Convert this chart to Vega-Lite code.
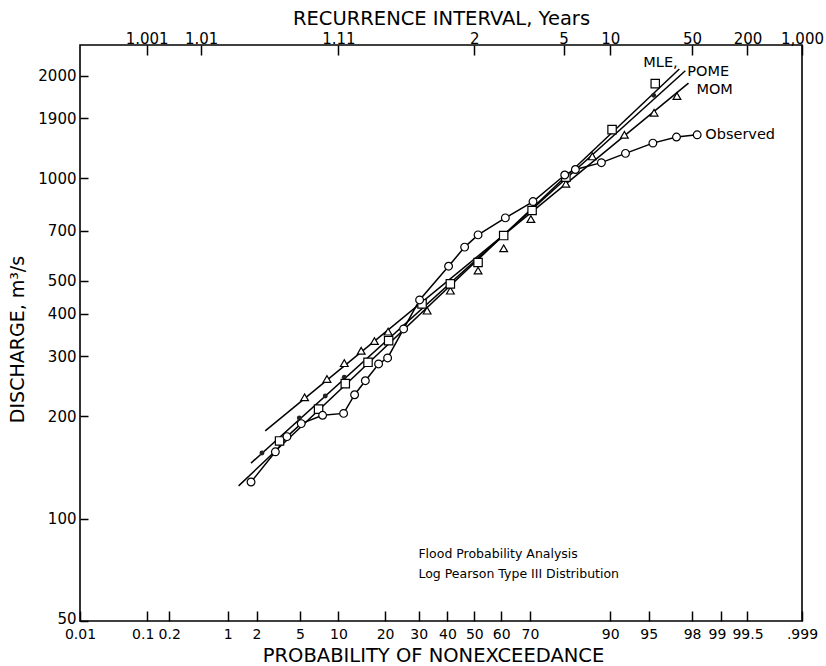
{
  "$schema": "https://vega.github.io/schema/vega-lite/v6.json",
  "width": 722,
  "height": 576,
  "autosize": {"type": "none"},
  "padding": {"left": 80, "top": 45, "right": 24, "bottom": 45},
  "background": "white",
  "config": {
    "view": {"stroke": "black", "strokeWidth": 1.6},
    "font": "DejaVu Sans",
    "axis": {
      "domain": false, "grid": false, "tickColor": "black", "tickWidth": 1.5,
      "labelColor": "black", "titleColor": "black", "labelFont": "DejaVu Sans", "titleFont": "DejaVu Sans",
      "labelFontSize": 15, "titleFontSize": 19.5, "titleFontWeight": "normal",
      "labelOverlap": false, "labelBound": false, "labelFlush": false
    }
  },
  "datasets": {
    "fits": [
      {"method": "MLE", "p": 1.31, "Q": 124.7}, {"method": "MLE", "p": 97.34, "Q": 2091},
      {"method": "POME", "p": 1.76, "Q": 145.5}, {"method": "POME", "p": 97.67, "Q": 2066},
      {"method": "MOM", "p": 2.43, "Q": 181}, {"method": "MOM", "p": 97.83, "Q": 1900}
    ],
    "pts": [
      {"method": "MOM", "p": 5.47, "Q": 227}, {"method": "MOM", "p": 8.23, "Q": 257}, {"method": "MOM", "p": 11.0, "Q": 286},
      {"method": "MOM", "p": 14.3, "Q": 311}, {"method": "MOM", "p": 17.3, "Q": 332}, {"method": "MOM", "p": 20.8, "Q": 354},
      {"method": "MOM", "p": 32.8, "Q": 408}, {"method": "MOM", "p": 41.05, "Q": 467}, {"method": "MOM", "p": 51.4, "Q": 535},
      {"method": "MOM", "p": 60.9, "Q": 622}, {"method": "MOM", "p": 70.3, "Q": 758}, {"method": "MOM", "p": 80.6, "Q": 962},
      {"method": "MOM", "p": 86.7, "Q": 1158}, {"method": "MOM", "p": 92.15, "Q": 1340}, {"method": "MOM", "p": 95.5, "Q": 1556},
      {"method": "MOM", "p": 97.2, "Q": 1742},
      {"method": "MLE", "p": 3.31, "Q": 169}, {"method": "MLE", "p": 7.09, "Q": 209.6}, {"method": "MLE", "p": 11.18, "Q": 249},
      {"method": "MLE", "p": 15.8, "Q": 287.6}, {"method": "MLE", "p": 20.95, "Q": 333}, {"method": "MLE", "p": 31.1, "Q": 427},
      {"method": "MLE", "p": 41.05, "Q": 489}, {"method": "MLE", "p": 51.4, "Q": 565}, {"method": "MLE", "p": 60.9, "Q": 678},
      {"method": "MLE", "p": 70.7, "Q": 803}, {"method": "MLE", "p": 80.6, "Q": 1006}, {"method": "MLE", "p": 90.3, "Q": 1388},
      {"method": "MLE", "p": 95.6, "Q": 1894},
      {"method": "POME", "p": 2.26, "Q": 155.7}, {"method": "POME", "p": 4.94, "Q": 197.4}, {"method": "POME", "p": 7.99, "Q": 229},
      {"method": "POME", "p": 11.0, "Q": 260}, {"method": "POME", "p": 95.46, "Q": 1750},
      {"method": "Observed", "p": 1.76, "Q": 128}, {"method": "Observed", "p": 3.03, "Q": 157}, {"method": "Observed", "p": 3.86, "Q": 174},
      {"method": "Observed", "p": 5.13, "Q": 190}, {"method": "Observed", "p": 7.62, "Q": 201}, {"method": "Observed", "p": 10.88, "Q": 203.6},
      {"method": "Observed", "p": 12.94, "Q": 231}, {"method": "Observed", "p": 15.2, "Q": 254}, {"method": "Observed", "p": 18.33, "Q": 284.5},
      {"method": "Observed", "p": 20.67, "Q": 296.3}, {"method": "Observed", "p": 25.24, "Q": 360.5}, {"method": "Observed", "p": 30.29, "Q": 438.7},
      {"method": "Observed", "p": 40.4, "Q": 551}, {"method": "Observed", "p": 46.35, "Q": 627}, {"method": "Observed", "p": 51.4, "Q": 681},
      {"method": "Observed", "p": 61.5, "Q": 764}, {"method": "Observed", "p": 71.0, "Q": 853}, {"method": "Observed", "p": 80.3, "Q": 1021},
      {"method": "Observed", "p": 82.97, "Q": 1060}, {"method": "Observed", "p": 88.46, "Q": 1110}, {"method": "Observed", "p": 92.3, "Q": 1182},
      {"method": "Observed", "p": 95.39, "Q": 1267}, {"method": "Observed", "p": 97.17, "Q": 1320}, {"method": "Observed", "p": 98.22, "Q": 1340}
    ],
    "labels": [
      {"text": "MLE,", "p": 94.45, "Q": 2174},
      {"text": "POME", "p": 97.77, "Q": 2045},
      {"text": "MOM", "p": 98.19, "Q": 1820},
      {"text": "Observed", "p": 98.53, "Q": 1335}
    ],
    "notes": [
      {"text": "Flood Probability Analysis", "p": 29.9, "Q": 78.7},
      {"text": "Log Pearson Type III Distribution", "p": 29.9, "Q": 68.8}
    ]
  },
  "encoding": {
    "y": {
      "field": "Q", "type": "quantitative",
      "scale": {"type": "log", "domain": [50, 2460], "nice": false},
      "axis": {
        "values": [50, 100, 200, 300, 400, 500, 700, 1000, 1500, 2000],
        "labelExpr": "datum.value == 1500 ? '1900' : '' + datum.value",
        "labelOffset": {"condition": {"test": "datum.value == 50", "value": -3}, "value": 0},
        "tickSize": -8, "labelPadding": 12,
        "title": "DISCHARGE, m³/s", "titleFontSize": 19, "titleX": -57, "titleY": 294, "titleBaseline": "alphabetic"
      }
    }
  },
  "layer": [
    {
      "data": {"name": "fits"},
      "transform": [{"calculate": "quantileNormal(datum.p / 100)", "as": "z"}],
      "mark": {"type": "line", "stroke": "black", "strokeWidth": 1.5},
      "encoding": {
        "x": {
          "field": "z", "type": "quantitative",
          "scale": {"domain": [-3.719, 3.0902], "nice": false, "zero": false},
          "axis": {
            "orient": "top",
            "values": [-3.0902, -2.5758, -1.2816, 0, 0.8416, 1.2816, 2.0537, 2.5758, 3.0902],
            "labelExpr": "round(cumulativeNormal(datum.value)*1000) == 1 ? '1.001' : round(cumulativeNormal(datum.value)*1000) == 5 ? '1.01' : round(cumulativeNormal(datum.value)*1000) == 100 ? '1.11' : round(cumulativeNormal(datum.value)*1000) == 500 ? '2' : round(cumulativeNormal(datum.value)*1000) == 800 ? '5' : round(cumulativeNormal(datum.value)*1000) == 900 ? '10' : round(cumulativeNormal(datum.value)*1000) == 980 ? '50' : round(cumulativeNormal(datum.value)*1000) == 995 ? '200' : '1,000'",
            "tickSize": -10, "labelPadding": 12, "labelBaseline": "alphabetic",
            "title": "RECURRENCE INTERVAL, Years", "titleY": -21, "titleBaseline": "alphabetic"
          }
        },
        "detail": {"field": "method"}
      }
    },
    {
      "data": {"name": "pts"},
      "transform": [
        {"filter": "datum.method == 'Observed'"},
        {"calculate": "quantileNormal(datum.p / 100)", "as": "z"}
      ],
      "mark": {"type": "line", "stroke": "black", "strokeWidth": 1.5},
      "encoding": {
        "x": {
          "field": "z", "type": "quantitative",
          "axis": {
            "orient": "bottom",
            "values": [-3.719, -3.0902, -2.8782, -2.3263, -2.0537, -1.6449, -1.2816, -0.8416, -0.5244, -0.2533, 0, 0.2533, 0.5244, 1.2816, 1.6449, 2.0537, 2.3263, 2.5758, 3.0902],
            "labelExpr": "round(cumulativeNormal(datum.value)*10000)/100 > 99.8 ? '.999' : '' + round(cumulativeNormal(datum.value)*10000)/100",
            "labelFontSize": 14,
            "labelOffset": {"condition": {"test": "abs(datum.value + 3.0902) < 0.01 || abs(datum.value - 2.3263) < 0.01", "value": -4}, "value": 0},
            "tickSize": -10, "labelPadding": 16,
            "title": "PROBABILITY OF NONEXCEEDANCE", "titleY": 40, "titleX": 353, "titleBaseline": "alphabetic"
          }
        }
      }
    },
    {
      "data": {"name": "pts"},
      "transform": [
        {"filter": "datum.method == 'POME'"},
        {"calculate": "quantileNormal(datum.p / 100)", "as": "z"}
      ],
      "mark": {"type": "circle", "fill": "#222222", "size": 24, "opacity": 1},
      "encoding": {"x": {"field": "z", "type": "quantitative", "axis": null}}
    },
    {
      "data": {"name": "pts"},
      "transform": [
        {"filter": "datum.method == 'MOM'"},
        {"calculate": "quantileNormal(datum.p / 100)", "as": "z"}
      ],
      "mark": {"type": "point", "shape": "triangle-up", "filled": true, "fill": "white", "stroke": "black", "strokeWidth": 1.2, "size": 60, "opacity": 1},
      "encoding": {"x": {"field": "z", "type": "quantitative", "axis": null}}
    },
    {
      "data": {"name": "pts"},
      "transform": [
        {"filter": "datum.method == 'MLE'"},
        {"calculate": "quantileNormal(datum.p / 100)", "as": "z"}
      ],
      "mark": {"type": "point", "shape": "square", "filled": true, "fill": "white", "stroke": "black", "strokeWidth": 1.2, "size": 70, "opacity": 1},
      "encoding": {"x": {"field": "z", "type": "quantitative", "axis": null}}
    },
    {
      "data": {"name": "pts"},
      "transform": [
        {"filter": "datum.method == 'Observed'"},
        {"calculate": "quantileNormal(datum.p / 100)", "as": "z"}
      ],
      "mark": {"type": "point", "shape": "circle", "filled": true, "fill": "white", "stroke": "black", "strokeWidth": 1.2, "size": 60, "opacity": 1},
      "encoding": {"x": {"field": "z", "type": "quantitative", "axis": null}}
    },
    {
      "data": {"name": "labels"},
      "transform": [{"calculate": "quantileNormal(datum.p / 100)", "as": "z"}],
      "mark": {"type": "text", "align": "left", "baseline": "middle", "fontSize": 14.5, "font": "DejaVu Sans", "color": "black"},
      "encoding": {
        "x": {"field": "z", "type": "quantitative", "axis": null},
        "text": {"field": "text"}
      }
    },
    {
      "data": {"name": "notes"},
      "transform": [{"calculate": "quantileNormal(datum.p / 100)", "as": "z"}],
      "mark": {"type": "text", "align": "left", "baseline": "middle", "fontSize": 12.5, "font": "DejaVu Sans", "color": "black"},
      "encoding": {
        "x": {"field": "z", "type": "quantitative", "axis": null},
        "text": {"field": "text"}
      }
    }
  ],
  "resolve": {"axis": {"x": "independent"}}
}
